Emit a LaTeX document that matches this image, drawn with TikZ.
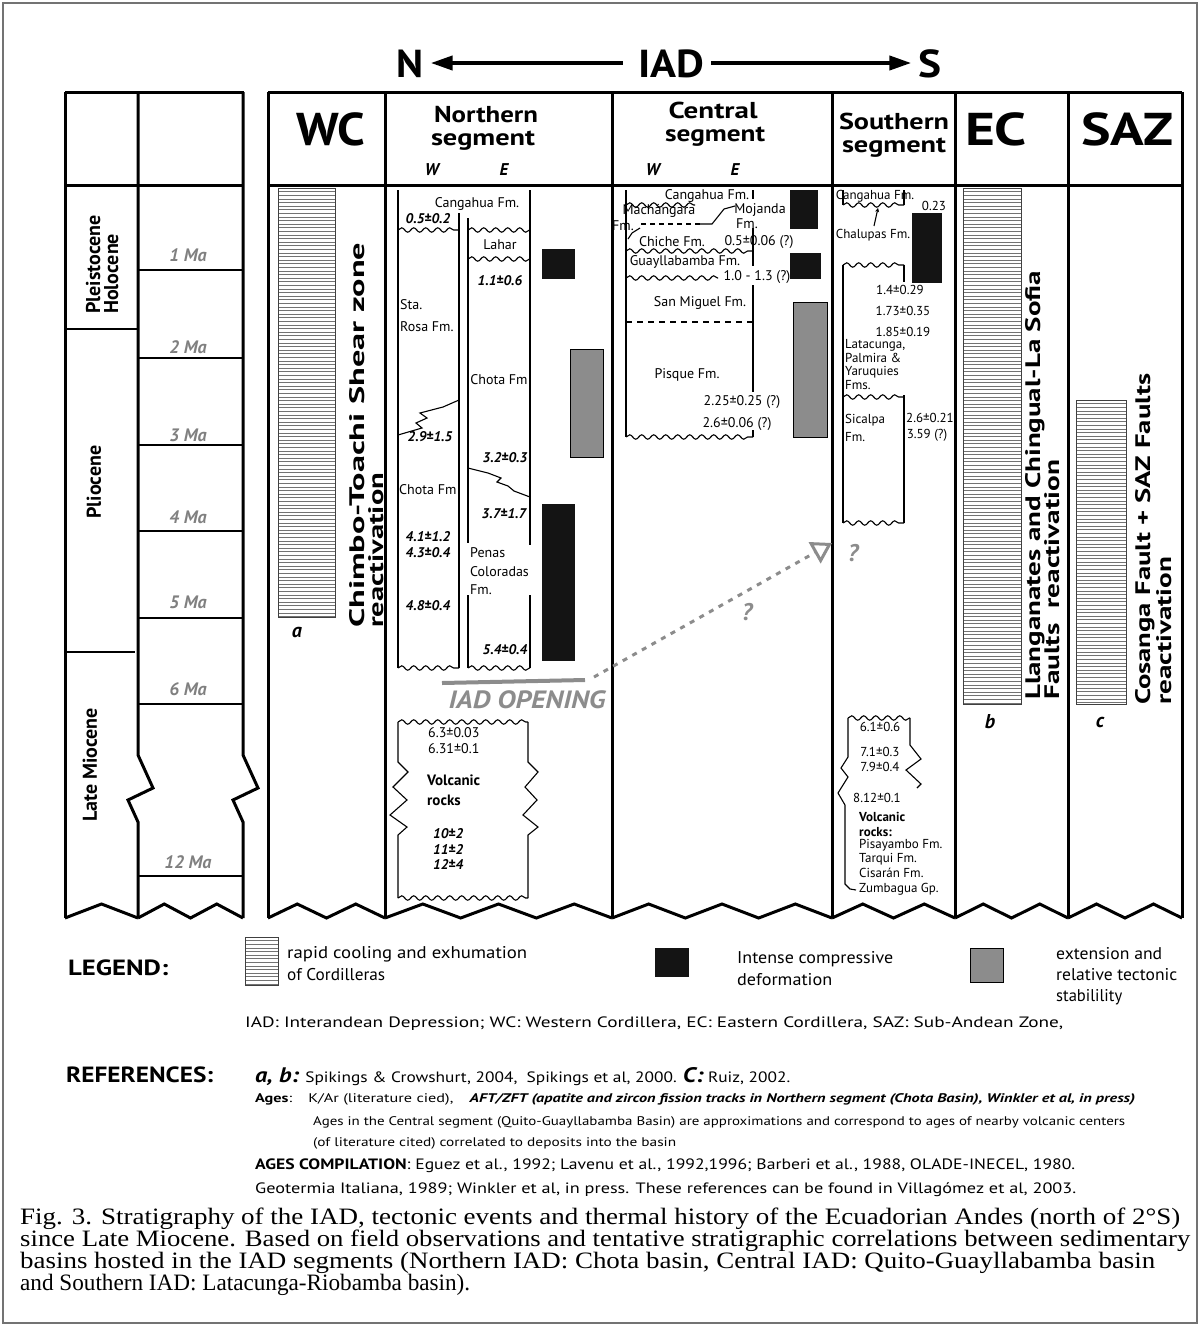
\documentclass[tikz,border=0pt]{standalone}
\usepackage{fontspec}
\usepackage{graphicx}
\usetikzlibrary{arrows.meta,decorations.pathmorphing}
\setmainfont{PT Sans}
\newfontfamily\capfont{Liberation Serif}
\newcommand\fs[1]{\fontsize{#1}{#1}\selectfont}
\newcommand\fw[2]{\resizebox{#1pt}{\height}{#2}}
\newcommand\wv[3]{\draw[wav] (#1,#3) -- (#2,#3);}
\newcommand\saw[3]{%
  \pgfmathsetmacro\sawd{(#2-#1)/#3}%
  \draw[col] (#1,918) \foreach \i in {1,...,#3}{ -- ({#1+(\i-0.5)*\sawd},904) -- ({#1+\i*\sawd},918)};}
\newcommand\stripebar[4]{%
  \fill[white] (#1,#2) rectangle (#3,#4);
  \pgfmathtruncatemacro\nstr{(#4-#2)/3.6}%
  \foreach \k in {1,...,\nstr}{\draw[stripe] (#1,{#2+\k*3.6}) -- (#3,{#2+\k*3.6});}%
  \draw[stripeframe] (#1,#2) rectangle (#3,#4);}
\tikzset{
  pageframe/.style={draw=black!55, line width=1.2pt},
  col/.style={line width=3pt, line join=miter},
  mline/.style={line width=2.2pt},
  sline/.style={line width=1.1pt},
  wav/.style={line width=1.1pt, decorate, decoration={snake, segment length=12pt, amplitude=2.2pt}},
  blk/.style={fill=black!92, draw=black!92},
  gry/.style={fill=black!45, draw=black, line width=0.9pt},
  stripe/.style={line width=0.55pt, draw=black!55},
  stripeframe/.style={line width=1pt, draw=black!75},
  hd/.style={inner sep=0pt, anchor=base, font={\bfseries\fs{39}}},
  hb/.style={inner sep=0pt, anchor=base, font={\bfseries\fs{46}}},
  hs/.style={inner sep=0pt, anchor=base, font={\bfseries\fs{23}}},
  hwe/.style={inner sep=0pt, anchor=base, font={\bfseries\itshape\fs{17}}},
  harr/.style={line width=4pt, -{Triangle[length=22pt,width=14pt]}},
  ep/.style={inner sep=0pt, rotate=90, anchor=base west, font={\bfseries\fs{20}}},
  malab/.style={inner sep=0pt, font={\itshape\bfseries\fs{18}}, text=black!50},
  fm/.style={inner sep=0pt, font={\fs{14}}},
  agei/.style={inner sep=0pt, font={\bfseries\itshape\fs{14}}},
  cf/.style={inner sep=0pt, font={\fs{14}}},
  sf/.style={inner sep=0pt, font={\fs{13}}},
  sfb/.style={inner sep=0pt, font={\bfseries\fs{13}}},
  rot/.style={inner sep=0pt, rotate=90, anchor=base west, font={\bfseries\fs{21}}},
  lab/.style={inner sep=0pt, font={\bfseries\itshape\fs{20}}},
  iadop/.style={inner sep=0pt, font={\bfseries\itshape\fs{25}}, text=black!45},
  qm/.style={inner sep=0pt, font={\bfseries\itshape\fs{24}}, text=black!45},
  dotarr/.style={draw=black!45, line width=3pt, dash pattern=on 5pt off 6pt, -{Triangle[open,length=20pt,width=24pt,line width=3pt]}},
  lgt/.style={inner sep=0pt, anchor=west, font={\fs{17}}},
  rft/.style={inner sep=0pt, anchor=west, font={\fs{14}}},
  capt/.style={inner sep=0pt, anchor=west, font={\capfont\fs{23.5}}},
}
\begin{document}
\begin{tikzpicture}[x=1pt,y=-1pt]
\useasboundingbox (0,0) rectangle (1200,1326);
\draw[pageframe] (3,3) rectangle (1197,1323);

% ---------- title arrow
\node[hd] (hN) at (410,77) {\fw{27}{N}};
\node[hd] (hIAD) at (671,77) {\fw{66}{IAD}};
\node[hd] (hS) at (930,77) {\fw{23}{S}};
\draw[harr, shorten <=15pt, shorten >=7pt] (hIAD.west |- 0,63) -- (hN.east |- 0,63);
\draw[harr, shorten <=7pt, shorten >=7pt] (hIAD.east |- 0,63) -- (hS.west |- 0,63);

% ---------- left time block
\draw[col] (65,92) -- (244,92);
\draw[col] (65,185) -- (244,185);
\draw[col] (65,92) -- (65,918);
\draw[col] (138,92) -- (138,755) -- (153,788) -- (128,800) -- (138,822) -- (138,918);
\draw[col] (243,92) -- (243,755) -- (258,788) -- (233,800) -- (243,822) -- (243,918);
\draw[mline] (65,329) -- (138,329);
\draw[mline] (65,652) -- (135,652);
\foreach \yy in {270,358,445,531,618,704,876} \draw[mline] (138,\yy) -- (243,\yy);
\saw{65}{138}{1}
\saw{138}{243}{2}
\node[ep] (e1) at (100,314) {Pleistocene};
\node[ep] (e2) at (118,314) {Holocene};
\node[ep, anchor=center] (e3) at (94,482) {Pliocene};
\node[ep, anchor=center] (e4) at (90,765) {Late Miocene};
\node[malab] (ma1) at (188,255) {1 Ma};
\node[malab] (ma2) at (188,347) {2 Ma};
\node[malab] (ma3) at (188,435) {3 Ma};
\node[malab] (ma4) at (188,517) {4 Ma};
\node[malab] (ma5) at (188,602) {5 Ma};
\node[malab] (ma6) at (188,689) {6 Ma};
\node[malab] (ma12) at (188,862) {12 Ma};

% ---------- right block frame
\draw[col] (268,92) -- (1182,92);
\draw[col] (268,185) -- (1182,185);
\foreach \xx in {268,385,612,832,955,1068,1182} \draw[col] (\xx,92) -- (\xx,918);
\saw{268}{385}{2}
\saw{385}{612}{3}
\saw{612}{832}{3}
\saw{832}{955}{2}
\saw{955}{1068}{2}
\saw{1068}{1182}{2}

% headers
\node[hb] (hWC) at (331,145) {\fw{69}{WC}};
\node[hs] (hNa) at (486,122) {\fw{104}{Northern}};
\node[hs] (hNb) at (483,145) {\fw{104}{segment}};
\node[hwe] (hNW) at (432,175) {W};
\node[hwe] (hNE) at (504,175) {E};
\node[hs] (hCa) at (713,118) {\fw{89}{Central}};
\node[hs] (hCb) at (715,141) {\fw{100}{segment}};
\node[hwe] (hCW) at (653,175) {W};
\node[hwe] (hCE) at (735,175) {E};
\node[hs] (hSa) at (894,129) {\fw{110}{Southern}};
\node[hs] (hSb) at (894,152) {\fw{104}{segment}};
\node[hb] (hEC) at (996,145) {\fw{62}{EC}};
\node[hb] (hSAZ) at (1127,145) {\fw{92}{SAZ}};

% ---------- WC column
\stripebar{278}{188}{335}{617}
\node[lab] (la) at (297,632) {a};
\node[rot] (wc1) at (364,628) {\fw{385}{Chimbo-Toachi Shear zone}};
\node[rot] (wc2) at (383,628) {\fw{155}{reactivation}};

% ---------- Northern segment
\draw[sline] (398,190) -- (398,668);
\draw[sline] (459,213) -- (459,668);
\draw[sline] (468,218) -- (468,543);
\draw[sline] (468,595) -- (468,668);
\draw[sline] (530,190) -- (530,545);
\draw[sline] (530,595) -- (530,668);
\wv{398}{459}{230}
\wv{468}{530}{230}
\wv{468}{530}{259}
\wv{398}{459}{668}
\wv{468}{530}{668}
\draw[sline] (459,400) -- (443,407) -- (420,413) -- (427,418) -- (416,423) -- (422,428) -- (398,435);
\draw[sline] (468,468) -- (488,473) -- (501,478) -- (497,482) -- (508,486) -- (514,491) -- (530,497);
\node[fm] (n1) at (477,204) {Cangahua Fm.};
\node[agei] (n2) at (428,219) {0.5±0.2};
\node[fm] (n3) at (500,245) {Lahar};
\node[agei] (n4) at (500,281) {1.1±0.6};
\node[fm, anchor=west] (n5) at (400,305) {Sta.};
\node[fm, anchor=west] (n6) at (400,327) {Rosa Fm.};
\node[fm] (n7) at (499,380) {Chota Fm};
\node[agei] (n8) at (430,437) {2.9±1.5};
\node[agei] (n9) at (505,458) {3.2±0.3};
\node[fm, anchor=west] (n10) at (399,490) {Chota Fm};
\node[agei] (n11) at (504,514) {3.7±1.7};
\node[agei] (n12) at (428,537) {4.1±1.2};
\node[agei] (n13) at (428,553) {4.3±0.4};
\node[fm, anchor=west] (n14) at (470,553) {Penas};
\node[fm, anchor=west] (n15) at (470,572) {Coloradas};
\node[fm, anchor=west] (n16) at (470,590) {Fm.};
\node[agei] (n17) at (428,606) {4.8±0.4};
\node[agei] (n18) at (505,650) {5.4±0.4};
\draw[blk] (542,249) rectangle (574,278);
\draw[gry] (570,349) rectangle (603,457);
\draw[blk] (542,504) rectangle (574,660);

% lower northern volcanic box
\wv{398}{528}{722}
\wv{398}{528}{898}
\draw[sline] (398,722) -- (398,762) -- (408,772) -- (393,787) -- (407,800) -- (390,815) -- (407,827) -- (398,835) -- (398,898);
\draw[sline] (528,722) -- (528,762) -- (538,772) -- (525,787) -- (537,800) -- (523,815) -- (538,827) -- (528,835) -- (528,898);
\node[fm, anchor=west] (n19) at (428,733) {6.3±0.03};
\node[fm, anchor=west] (n20) at (428,749) {6.31±0.1};
\node[fm, anchor=west, font={\bfseries\fs{15}}] (n21) at (427,780) {Volcanic};
\node[fm, anchor=west, font={\bfseries\fs{15}}] (n22) at (427,800) {rocks};
\node[agei, anchor=west] (n23) at (433,834) {10±2};
\node[agei, anchor=west] (n24) at (433,849) {11±2};
\node[agei, anchor=west] (n25) at (433,864) {12±4};

% IAD opening
\draw[draw=black!45, line width=4pt] (442,683) -- (585,680);
\node[iadop] (iadop) at (527,700) {\fw{157}{IAD OPENING}};
\coordinate (oA) at (594,677);
\coordinate (oB) at (832,543);
\draw[dotarr] (oA) -- (oB);
\node[qm] (q1) at (747,612) {?};
\node[qm] (q2) at (853,553) {?};

% ---------- Central segment
\draw[sline] (626,190) -- (626,437);
\draw[sline] (753,190) -- (753,199);
\draw[sline] (753,228) -- (753,266);
\draw[sline] (753,285) -- (753,392);
\draw[sline] (753,430) -- (753,437);
\wv{626}{695}{205}
\draw[sline] (735,206) -- (724,209) -- (712,224) -- (700,224);
\draw[sline, dash pattern=on 5pt off 4pt] (700,224) -- (640,224);
\draw[sline] (640,228) -- (632,233) -- (628,239);
\wv{626}{753}{251}
\wv{626}{718}{278}
\draw[sline, dash pattern=on 6pt off 5pt] (626,322) -- (753,322);
\wv{626}{753}{437}
\node[cf] (c1) at (707,196) {Cangahua Fm.};
\node[cf] (c2) at (659,211) {Machángara};
\node[cf] (c3) at (623,226) {Fm.};
\node[cf] (c4) at (760,210) {Mojanda};
\node[cf] (c5) at (747,224) {Fm.};
\node[cf] (c6) at (672,242) {Chiche Fm.};
\node[cf] (c7) at (759,242) {0.5±0.06 (?)};
\node[cf] (c8) at (685,262) {Guayllabamba Fm.};
\node[cf] (c9) at (757,277) {1.0 - 1.3 (?)};
\node[cf] (c10) at (700,303) {San Miguel Fm.};
\node[cf] (c11) at (687,375) {Pisque Fm.};
\node[cf] (c12) at (742,402) {2.25±0.25 (?)};
\node[cf] (c13) at (737,424) {2.6±0.06 (?)};
\draw[blk] (790,190) rectangle (817,228);
\draw[blk] (790,253) rectangle (820,278);
\draw[gry] (793,302) rectangle (827,437);

% ---------- Southern segment
\draw[sline] (843,190) -- (843,205);
\draw[sline] (904,190) -- (904,205);
\wv{843}{904}{205}
\node[sf] (s1) at (875,196) {Cangahua Fm.};
\node[sf] (s2) at (934,206) {0.23};
\node[sf] (s3) at (873,235) {Chalupas Fm.};
\coordinate (sA) at (874,226);
\coordinate (sB) at (878,208);
\draw[sline, -{Stealth[length=4pt,width=4pt]}] (sA) -- (sB);
\draw[blk] (912,213) rectangle (941,282);
\wv{843}{904}{265}
\draw[sline] (843,265) -- (843,523);
\draw[sline] (904,265) -- (904,282);
\draw[sline] (904,395) -- (904,523);
\node[sf] (s4) at (900,290) {1.4±0.29};
\node[sf] (s5) at (903,311) {1.73±0.35};
\node[sf] (s6) at (903,332) {1.85±0.19};
\node[sf, anchor=west] (s7) at (845,345) {Latacunga,};
\node[sf, anchor=west] (s8) at (845,358) {Palmira \&};
\node[sf, anchor=west] (s9) at (845,372) {Yaruquies};
\node[sf, anchor=west] (s10) at (845,385) {Fms.};
\wv{843}{904}{397}
\node[sf, anchor=west] (s11) at (845,420) {Sicalpa};
\node[sf, anchor=west] (s12) at (845,437) {Fm.};
\node[sf] (s13) at (930,418) {2.6±0.21};
\node[sf] (s14) at (927,435) {3.59 (?)};
\wv{843}{904}{523}

% lower southern
\wv{848}{910}{718}
\draw[sline] (910,718) -- (910,745) -- (921,759) -- (906,770) -- (921,784) -- (917,788);
\draw[sline] (848,718) -- (848,757) -- (841,768) -- (848,777) -- (838,793) -- (845,805) -- (845,884) -- (850,889) -- (856,890);
\node[sf] (s15) at (880,727) {6.1±0.6};
\node[sf] (s16) at (880,752) {7.1±0.3};
\node[sf] (s17) at (880,767) {7.9±0.4};
\node[sf] (s18) at (877,798) {8.12±0.1};
\node[sfb, anchor=west] (s19) at (859,817) {Volcanic};
\node[sfb, anchor=west] (s20) at (859,832) {rocks:};
\node[sf, anchor=west] (s21) at (859,845) {Pisayambo Fm.};
\node[sf, anchor=west] (s22) at (859,859) {Tarqui Fm.};
\node[sf, anchor=west] (s23) at (859,873) {Cisarán Fm.};
\node[sf, anchor=west] (s24) at (859,889) {Zumbagua Gp.};

% ---------- EC column
\stripebar{963}{188}{1021}{704}
\node[lab] (lb) at (990,722) {b};
\node[rot] (ec1) at (1040,700) {\fw{429}{Llanganates and Chingual-La Sofia}};
\node[rot] (ec2) at (1059,700) {\fw{240}{Faults\ \ reactivation}};

% ---------- SAZ column
\stripebar{1076}{400}{1126}{704}
\node[lab] (lc) at (1100,722) {c};
\node[rot] (sz1) at (1150,705) {\fw{331}{Cosanga Fault + SAZ Faults}};
\node[rot] (sz2) at (1171,705) {\fw{148}{reactivation}};

% ---------- Legend
\node[inner sep=0pt, anchor=west, font={\bfseries\fs{22}}] (lg) at (68,968) {\fw{100}{LEGEND:}};
\stripebar{245}{937}{278}{985}
\node[lgt] (lg1) at (287,954) {\fw{240}{rapid cooling and exhumation}};
\node[lgt] (lg2) at (287,975) {\fw{98}{of Cordilleras}};
\draw[blk] (655,948) rectangle (688,976);
\node[lgt] (lg3) at (737,959) {\fw{156}{Intense compressive}};
\node[lgt] (lg4) at (737,980) {\fw{95}{deformation}};
\draw[gry] (970,948) rectangle (1003,982);
\node[lgt] (lg5) at (1056,954) {\fw{106}{extension and}};
\node[lgt] (lg6) at (1056,975) {\fw{121}{relative tectonic}};
\node[lgt] (lg7) at (1056,997) {\fw{66}{stabilility}};
\node[rft, font={\fs{15}}] (lgi) at (245,1024) {\fw{818}{IAD: Interandean Depression; WC: Western Cordillera, EC: Eastern Cordillera, SAZ: Sub-Andean Zone,}};

% ---------- References
\node[inner sep=0pt, anchor=west, font={\bfseries\fs{22}}] (rf) at (66,1075) {\fw{147}{REFERENCES:}};
\node[rft, font={\fs{15}}] (r1) at (255,1077) {\fw{535}{{\bfseries\itshape\fs{21}a, b:} Spikings \& Crowshurt, 2004,\ \ Spikings et al, 2000. {\bfseries\itshape\fs{21}C:} Ruiz, 2002.}};
\node[rft, font={\fs{12.5}}] (r2) at (255,1099) {\fw{880}{\textbf{Ages}:\quad K/Ar (literature cied),\quad \textbf{\textit{AFT/ZFT (apatite and zircon fission tracks in Northern segment (Chota Basin), Winkler et al, in press)}}}};
\node[rft, font={\fs{12.5}}] (r3) at (313,1122) {\fw{812}{Ages in the Central segment (Quito-Guayllabamba Basin) are approximations and correspond to ages of nearby volcanic centers}};
\node[rft, font={\fs{12.5}}] (r4) at (313,1143) {\fw{363}{(of literature cited) correlated to deposits into the basin}};
\node[rft, font={\fs{15}}] (r5) at (255,1166) {\fw{820}{\textbf{AGES COMPILATION}: Eguez et al., 1992; Lavenu et al., 1992,1996; Barberi et al., 1988, OLADE-INECEL, 1980.}};
\node[rft, font={\fs{15}}] (r6) at (255,1190) {\fw{821}{Geotermia Italiana, 1989; Winkler et al, in press. These references can be found in Villagómez et al, 2003.}};

% ---------- Caption
\node[capt] (cap1) at (20,1219) {\fw{1160}{Fig. 3. Stratigraphy of the IAD, tectonic events and thermal history of the Ecuadorian Andes (north of 2°S)}};
\node[capt] (cap2) at (20,1241) {\fw{1170}{since Late Miocene. Based on field observations and tentative stratigraphic correlations between sedimentary}};
\node[capt] (cap3) at (20,1263) {\fw{1135}{basins hosted in the IAD segments (Northern IAD: Chota basin, Central IAD: Quito-Guayllabamba basin}};
\node[capt] (cap4) at (20,1285) {\fw{450}{and Southern IAD: Latacunga-Riobamba basin).}};
\end{tikzpicture}
\end{document}
